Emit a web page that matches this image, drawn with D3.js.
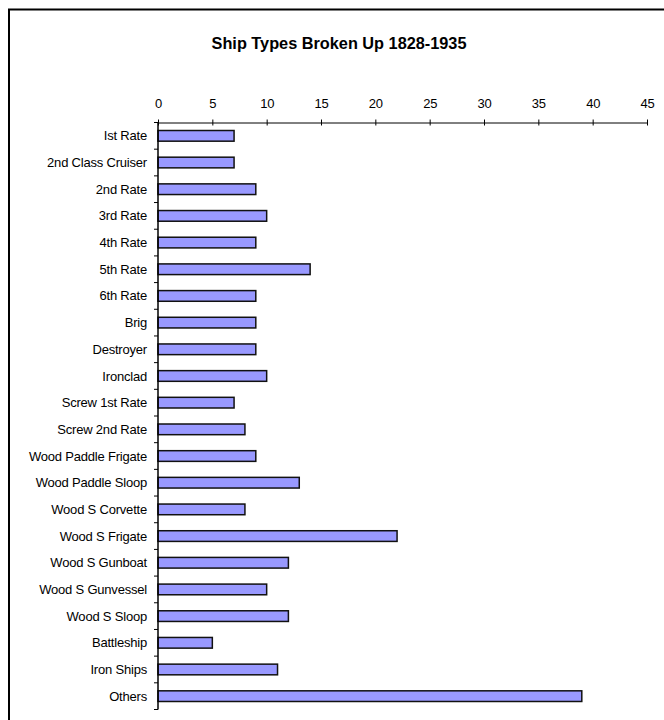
<!DOCTYPE html>
<html>
<head>
<meta charset="utf-8">
<script src="https://cdn.jsdelivr.net/npm/d3@7"></script>
<style>
  body { margin: 0; background: #fff; }
  svg { display: block; font-family: Arial, "Liberation Sans", sans-serif; }
</style>
</head>
<body>
<div id="chart"></div>
<script>
var shipTypes = [
  'Ist Rate', '2nd Class Cruiser', '2nd Rate', '3rd Rate', '4th Rate',
  '5th Rate', '6th Rate', 'Brig', 'Destroyer', 'Ironclad',
  'Screw 1st Rate', 'Screw 2nd Rate', 'Wood Paddle Frigate', 'Wood Paddle Sloop',
  'Wood S Corvette', 'Wood S Frigate', 'Wood S Gunboat', 'Wood S Gunvessel',
  'Wood S Sloop', 'Battleship', 'Iron Ships', 'Others'
];
var brokenUp = [7, 7, 9, 10, 9, 14, 9, 9, 9, 10, 7, 8, 9, 13, 8, 22, 12, 10, 12, 5, 11, 39];
var xTicks = [0, 5, 10, 15, 20, 25, 30, 35, 40, 45];

var width = 664, height = 720;

var svg = d3.select('#chart')
  .append('svg')
    .attr('width', width)
    .attr('height', height);

// outer chart border (right and bottom edges run off the picture)
svg.append('rect')
  .attr('x', 9)
  .attr('y', 9.5)
  .attr('width', 700)
  .attr('height', 760)
  .attr('fill', 'none')
  .attr('stroke', '#000')
  .attr('stroke-width', 2);

svg.append('text')
  .attr('x', 339)
  .attr('y', 49)
  .attr('text-anchor', 'middle')
  .attr('font-size', 16.3)
  .attr('font-weight', 'bold')
  .text('Ship Types Broken Up 1828-1935');

var x = d3.scaleLinear()
  .domain([0, 45])
  .range([158, 647]);

var y = d3.scaleBand()
  .domain(shipTypes)
  .range([122.5, 709.5])
  .paddingInner(0.6)
  .paddingOuter(0.3);

// bars
svg.selectAll('rect.bar')
  .data(shipTypes)
  .enter()
  .append('rect')
    .attr('class', 'bar')
    .attr('x', x(0))
    .attr('y', function(d) { return y(d); })
    .attr('height', y.bandwidth())
    .attr('width', function(d, i) { return x(brokenUp[i]) - x(0); })
    .attr('fill', '#9999ff')
    .attr('stroke', '#111')
    .attr('stroke-width', 1.5);

// top value axis
var xAxis = svg.append('g')
  .attr('transform', 'translate(0,122.5)')
  .call(d3.axisTop(x).tickValues(xTicks).tickSize(3).tickSizeOuter(0));
xAxis.selectAll('.tick line').attr('y2', 3).attr('y1', -3);
xAxis.select('.domain').attr('stroke', '#000');
xAxis.selectAll('text')
  .attr('font-size', 13)
  .attr('letter-spacing', -0.2)
  .attr('font-family', 'Arial, "Liberation Sans", sans-serif')
  .attr('y', -15);

// left category axis with ticks between categories
var yScaleEdges = d3.scaleLinear()
  .domain([0, shipTypes.length])
  .range([122.5, 709.5]);
var yAxis = svg.append('g')
  .attr('transform', 'translate(' + x(0) + ',0)');
yAxis.append('line')
  .attr('y1', 122.5)
  .attr('y2', 709.5)
  .attr('stroke', '#000')
  .attr('stroke-width', 1.5);
yAxis.selectAll('line.tk')
  .data(d3.range(shipTypes.length + 1))
  .enter()
  .append('line')
    .attr('class', 'tk')
    .attr('x1', -4)
    .attr('x2', 0)
    .attr('y1', function(d) { return yScaleEdges(d); })
    .attr('y2', function(d) { return yScaleEdges(d); })
    .attr('stroke', '#000');
yAxis.selectAll('text')
  .data(shipTypes)
  .enter()
  .append('text')
    .attr('x', -11)
    .attr('y', function(d) { return y(d) + y.bandwidth() / 2; })
    .attr('dy', '0.35em')
    .attr('text-anchor', 'end')
    .attr('font-size', 13)
    .attr('letter-spacing', -0.2)
    .text(function(d) { return d; });
</script>
</body>
</html>
